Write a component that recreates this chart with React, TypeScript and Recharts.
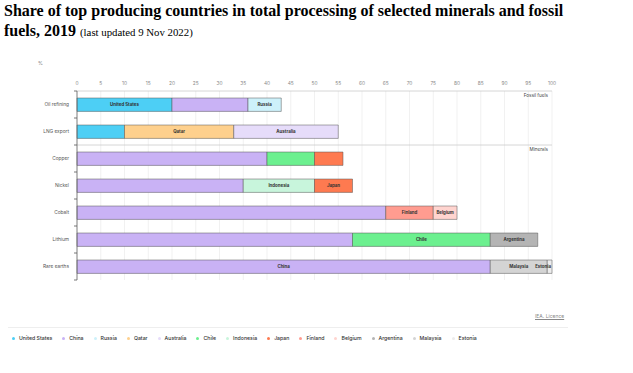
import { Bar, BarChart, CartesianGrid, LabelList, XAxis, YAxis } from 'recharts';

const categories = ['Oil refining', 'LNG export', 'Copper', 'Nickel', 'Cobalt', 'Lithium', 'Rare earths'];
const countries = ['United States', 'China', 'Russia', 'Qatar', 'Australia', 'Chile', 'Indonesia', 'Japan', 'Finland', 'Belgium', 'Argentina', 'Malaysia', 'Estonia'];
const colors = ['#4dcff5', '#c9b2f5', '#cdf1fa', '#fed08d', '#e6dcfa', '#6cf08f', '#c8f5dc', '#fe7a50', '#ff9c90', '#ffd4cf', '#b4b4b4', '#d4d4d4', '#ececec'];

const unitedStates = [20, 10, 0, 0, 0, 0, 0];
const china = [16, 0, 40, 35, 65, 58, 87];
const russia = [7, 0, 0, 0, 0, 0, 0];
const qatar = [0, 23, 0, 0, 0, 0, 0];
const australia = [0, 22, 0, 0, 0, 0, 0];
const chile = [0, 0, 10, 0, 0, 29, 0];
const indonesia = [0, 0, 0, 15, 0, 0, 0];
const japan = [0, 0, 6, 8, 0, 0, 0];
const finland = [0, 0, 0, 0, 10, 0, 0];
const belgium = [0, 0, 0, 0, 5, 0, 0];
const argentina = [0, 0, 0, 0, 0, 10, 0];
const malaysia = [0, 0, 0, 0, 0, 0, 12];
const estonia = [0, 0, 0, 0, 0, 0, 1];

const seriesValues = [unitedStates, china, russia, qatar, australia, chile, indonesia, japan, finland, belgium, argentina, malaysia, estonia];
const xTicks = [0, 5, 10, 15, 20, 25, 30, 35, 40, 45, 50, 55, 60, 65, 70, 75, 80, 85, 90, 95, 100];
const groupNames = ['Fossil fuels', 'Minerals'];
const groupStarts = ['Oil refining', 'Copper'];
const shownLabels = [
  'Oil refining:United States', 'Oil refining:Russia',
  'LNG export:Qatar', 'LNG export:Australia',
  'Nickel:Indonesia', 'Nickel:Japan',
  'Cobalt:Finland', 'Cobalt:Belgium',
  'Lithium:Chile', 'Lithium:Argentina',
  'Rare earths:China', 'Rare earths:Malaysia', 'Rare earths:Estonia',
];

const data = categories.map((category, i) => {
  const row: Record<string, string | number> = { category };
  countries.forEach((country, j) => { row[country] = seriesValues[j][i]; });
  return row;
});

const W = 633;
const H = 373;
const PLOT_LEFT = 77;
const PLOT_RIGHT = 552;
const PLOT_TOP = 91;
const PLOT_BOTTOM = 280;
const HALF_BAND = (PLOT_BOTTOM - PLOT_TOP) / categories.length / 2;
const SANS = 'Inter, "Noto Sans", sans-serif';

function CategoryTick({ x, y, payload }: { x?: number; y?: number; payload?: { value?: string } }) {
  const cx = Number(x);
  const cy = Number(y);
  const value = String(payload?.value ?? '');
  const g = groupStarts.indexOf(value);
  return (
    <g>
      <text x={cx} y={cy} dy={1.7} textAnchor="end" fontSize={4.8} fill="#555" fontFamily={SANS}>{value}</text>
      <line x1={PLOT_LEFT - 3} x2={PLOT_LEFT} y1={cy + HALF_BAND} y2={cy + HALF_BAND} stroke="#555" strokeWidth={0.8} />
      {value === categories[0] ? <line x1={PLOT_LEFT - 3} x2={PLOT_LEFT} y1={cy - HALF_BAND} y2={cy - HALF_BAND} stroke="#555" strokeWidth={0.8} /> : null}
      {g >= 0 ? (
        <text x={PLOT_RIGHT - 4} y={cy - HALF_BAND + 5.5} textAnchor="end" fontSize={4.6} fill="#444" fontFamily={SANS}>{groupNames[g]}</text>
      ) : null}
    </g>
  );
}

function BarLabel(props: { x?: number; y?: number; width?: number; height?: number; value?: string; country: string }) {
  const { x, y, width, height, value, country } = props;
  const w = Number(width);
  if (!w || !shownLabels.includes(`${value}:${country}`)) return null;
  // narrow segments at the right edge: keep the label inside the plot
  const tight = w < 8;
  return (
    <text
      x={tight ? Number(x) + w - 1 : Number(x) + w / 2}
      y={Number(y) + Number(height) / 2}
      dy={1.6}
      textAnchor={tight ? 'end' : 'middle'}
      fontSize={4.4}
      fontWeight={700}
      fill="#333"
      fontFamily={SANS}
    >
      {country}
    </text>
  );
}

export default function App() {
  return (
    <div style={{ position: 'absolute', left: 0, top: 0, width: W, height: H, background: '#fff', overflow: 'hidden' }}>
      <div style={{ position: 'absolute', left: 4, top: 1, width: 600, fontFamily: '"Liberation Serif", "Times New Roman", serif', fontWeight: 700, fontSize: 16, lineHeight: '20px', color: '#000' }}>
        Share of top producing countries in total processing of selected minerals and fossil<br />
        fuels, 2019 <span style={{ fontWeight: 400, fontSize: 10.8 }}>(last updated 9 Nov 2022)</span>
      </div>
      <div style={{ position: 'absolute', left: 38, top: 60, fontFamily: SANS, fontSize: 5, color: '#777' }}>%</div>
      <div style={{ position: 'absolute', left: 0, top: 0 }}>
        <BarChart
          width={W}
          height={H}
          data={data}
          layout="vertical"
          margin={{ top: PLOT_TOP - 20, right: W - PLOT_RIGHT, bottom: H - PLOT_BOTTOM, left: 0 }}
          barSize={13.4}
        >
          <CartesianGrid horizontal={false} stroke="#eeeeee" strokeWidth={0.8} />
          <CartesianGrid
            vertical={false}
            stroke="#cccccc"
            strokeWidth={0.8}
            horizontalCoordinatesGenerator={({ offset }: any) => [offset.top + (offset.height * 2) / categories.length]}
          />
          <XAxis
            type="number"
            orientation="top"
            domain={[0, 100]}
            ticks={xTicks}
            height={20}
            tickLine={false}
            tickSize={4}
            tickMargin={2}
            axisLine={{ stroke: '#cccccc', strokeWidth: 0.8 }}
            tick={{ fontSize: 4.8, fill: '#888', fontFamily: SANS }}
            interval={0}
          />
          <YAxis
            type="category"
            dataKey="category"
            width={PLOT_LEFT}
            tickLine={false}
            tickSize={6}
            tickMargin={2}
            axisLine={{ stroke: '#666', strokeWidth: 0.8 }}
            tick={<CategoryTick />}
            interval={0}
          />
          {countries.map((country, i) => (
            <Bar key={country} dataKey={country} stackId="a" fill={colors[i]} stroke="#555" strokeWidth={0.5} isAnimationActive={false}>
              <LabelList dataKey="category" content={(p: any) => <BarLabel {...p} country={country} />} />
            </Bar>
          ))}
        </BarChart>
      </div>
      <div style={{ position: 'absolute', left: 535, top: 313, fontFamily: SANS, fontSize: 5, color: '#888', textDecoration: 'underline' }}>IEA. Licence</div>
      <div style={{ position: 'absolute', left: 8, top: 327, width: 560, borderTop: '0.8px solid #eeeeee' }} />
      <div style={{ position: 'absolute', left: 12, top: 335, display: 'flex', gap: 10, fontFamily: SANS, fontSize: 5.2, fontWeight: 500, color: '#333', whiteSpace: 'nowrap' }}>
        {countries.map((country, i) => (
          <div key={country} style={{ display: 'flex', alignItems: 'center', gap: 4 }}>
            <span style={{ width: 3, height: 3, borderRadius: '50%', background: colors[i], display: 'inline-block' }} />
            <span>{country}</span>
          </div>
        ))}
      </div>
    </div>
  );
}
